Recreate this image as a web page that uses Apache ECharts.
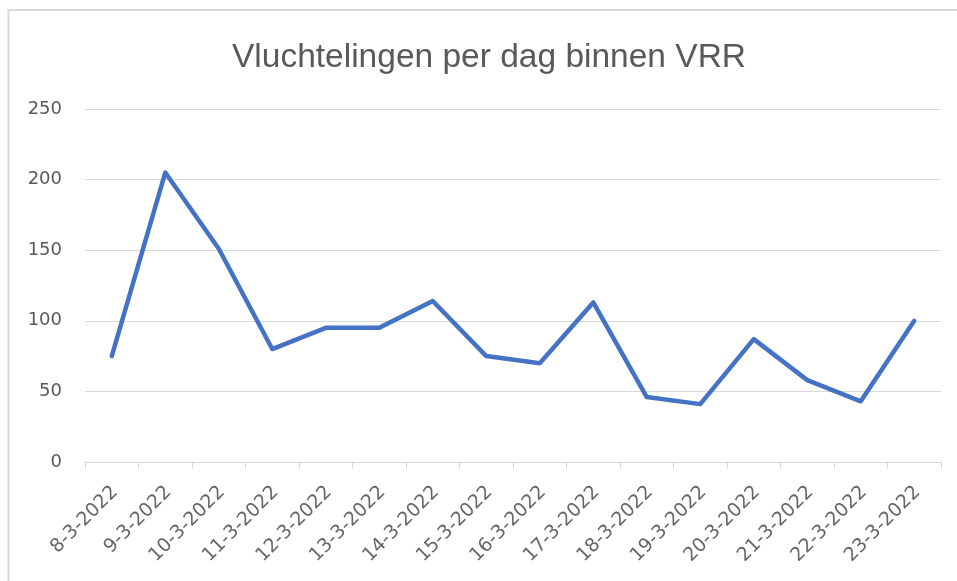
<!DOCTYPE html>
<html>
<head>
<meta charset="utf-8">
<script src="https://cdn.jsdelivr.net/npm/echarts@6/dist/echarts.min.js"></script>
<style>
html,body{margin:0;padding:0;background:#fff;}
#c{width:957px;height:581px;}
</style>
</head>
<body>
<div id="c"></div>
<script>
const titleText = 'Vluchtelingen per dag binnen VRR';
const categories = ['8-3-2022','9-3-2022','10-3-2022','11-3-2022','12-3-2022','13-3-2022','14-3-2022','15-3-2022','16-3-2022','17-3-2022','18-3-2022','19-3-2022','20-3-2022','21-3-2022','22-3-2022','23-3-2022'];
const values = [75, 205, 151, 80, 95, 95, 114, 75, 70, 113, 46, 41, 87, 58, 43, 100];
const yTicks = [0, 50, 100, 150, 200, 250];

const chart = echarts.init(document.getElementById('c'), null, {renderer: 'canvas'});
chart.setOption({
  animation: false,
  backgroundColor: '#ffffff',
  title: {
    text: titleText,
    left: 232,
    top: 41,
    padding: 0,
    textStyle: {fontFamily: 'Liberation Sans', fontSize: 33.5, fontWeight: 'normal', color: '#595959'}
  },
  graphic: [
    {type: 'line', shape: {x1: 8.5, y1: 10, x2: 8.5, y2: 581}, style: {stroke: '#d9d9d9', lineWidth: 2}},
    {type: 'line', shape: {x1: 7.5, y1: 10, x2: 957, y2: 10}, style: {stroke: '#d9d9d9', lineWidth: 2}}
  ],
  grid: {left: 85, right: 16, top: 109, bottom: 119, containLabel: false},
  xAxis: {
    type: 'category',
    data: categories,
    boundaryGap: true,
    axisLine: {lineStyle: {color: '#d9d9d9', width: 1}},
    axisTick: {show: true, length: 7, lineStyle: {color: '#d9d9d9'}},
    axisLabel: {rotate: 45, interval: 0, margin: 17, verticalAlign: 'top', padding: [0, 5, 0, 0], fontFamily: 'DejaVu Sans', fontSize: 19, color: '#666666'}
  },
  yAxis: {
    type: 'value',
    min: yTicks[0],
    max: yTicks[yTicks.length - 1],
    interval: 50,
    axisLine: {show: false},
    axisTick: {show: false},
    splitLine: {lineStyle: {color: '#d9d9d9', width: 1}},
    axisLabel: {margin: 23, fontFamily: 'DejaVu Sans', fontSize: 18, color: '#595959'}
  },
  series: [{
    type: 'line',
    data: values,
    showSymbol: false,
    symbol: 'none',
    lineStyle: {color: '#4472C4', width: 4.5, join: 'round', cap: 'round'}
  }]
});
</script>
</body>
</html>
